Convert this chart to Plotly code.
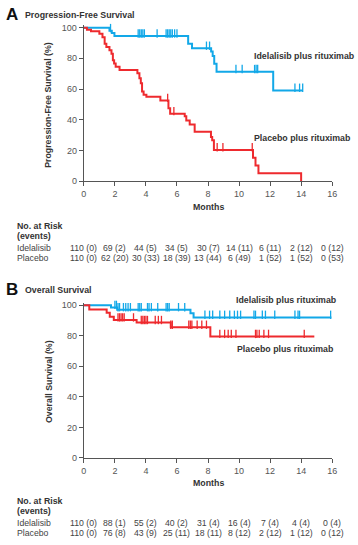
import plotly.graph_objects as go

# ---------------- DATA ----------------
months_ticks = [0, 2, 4, 6, 8, 10, 12, 14, 16]
pct_ticks = [0, 20, 40, 60, 80, 100]

# Progression-free survival (step functions: time in months, survival %)
pfs_idela_t = [0, 1.65, 1.8, 1.97, 6.72, 6.97, 8.2, 8.3, 8.4, 8.55, 12.2, 14.1]
pfs_idela_s = [100, 98, 96.5, 94.5, 89.5, 86.5, 84.5, 81.5, 76.5, 71.3, 59.1, 59.1]
pfs_idela_cens = [1.47, 1.6, 1.72, 3.5, 3.6, 3.7, 3.8, 3.9, 4.72, 5.3, 5.4, 5.5, 5.6, 5.7,
                  5.85, 6.0, 7.9, 8.1, 9.8, 10.2, 11.0, 11.1, 11.2, 13.6, 13.9, 14.1]

pfs_plac_t = [0, 0.2, 0.46, 1.0, 1.2, 1.34, 1.45, 1.65, 1.78, 1.87, 1.95, 2.05, 2.3, 3.45,
              3.58, 3.67, 3.75, 3.85, 4.03, 4.93, 5.45, 5.56, 6.5, 6.6, 6.82, 7.14, 8.19,
              8.27, 8.38, 10.9, 11.06, 11.25, 14.0]
pfs_plac_s = [100, 98.7, 97.6, 96, 93.8, 89.5, 87.4, 85.2, 83, 78.8, 76.7, 74.5, 72.4, 70.2,
              67, 63.8, 58.4, 56.3, 55.0, 52.5, 47.5, 43.9, 42.2, 39.4, 36.9, 32.1, 28.7,
              26.6, 20.3, 15.2, 10.2, 5.1, 0]
pfs_plac_cens = [5.4, 5.8, 8.59, 8.96, 10.85]

# Overall survival
os_idela_t = [0, 1.75, 2.15, 6.87, 7.07, 15.95]
os_idela_s = [100, 98.5, 97, 94.8, 92, 92]
os_idela_cens = [0.35, 0.57, 0.78, 0.98, 1.2, 1.5, 1.6, 2.0, 2.1, 2.2, 2.3, 2.55, 2.7, 2.85,
                 3.0, 3.5, 3.6, 3.7, 4.1, 4.2, 4.35, 4.76, 5.3, 5.4, 5.5, 6.1, 6.5, 7.8, 8.1,
                 8.3, 8.76, 9.07, 9.4, 9.7, 9.9, 10.1, 10.96, 11.06, 11.5, 11.7, 12.3, 13.6,
                 13.8, 13.9, 15.9]

os_plac_t = [0, 0.35, 1.47, 1.67, 1.93, 3.4, 5.6, 8.15, 14.85]
os_plac_s = [100, 97.2, 95, 92.5, 90.3, 88.6, 85.5, 79.5, 79.5]
os_plac_cens = [0.15, 2.2, 2.3, 2.4, 2.5, 2.6, 3.2, 3.7, 3.8, 3.9, 4.0, 4.1, 4.6, 4.8, 5.0,
                5.6, 5.7, 6.76, 6.86, 6.96, 7.3, 7.6, 7.9, 8.76, 9.07, 9.3, 9.5, 9.8, 11.06,
                11.15, 11.3, 11.6, 11.9, 14.2]

# Number at risk (events)
risk_months = [0, 2, 4, 6, 8, 10, 12, 14, 16]
pfs_idela_risk = ["110 (0)", "69 (2)", "44 (5)", "34 (5)", "30 (7)", "14 (11)", "6 (11)", "2 (12)", "0 (12)"]
pfs_plac_risk = ["110 (0)", "62 (20)", "30 (33)", "18 (39)", "13 (44)", "6 (49)", "1 (52)", "1 (52)", "0 (53)"]
os_idela_risk = ["110 (0)", "88 (1)", "55 (2)", "40 (2)", "31 (4)", "16 (4)", "7 (4)", "4 (4)", "0 (4)"]
os_plac_risk = ["110 (0)", "76 (8)", "43 (9)", "25 (11)", "18 (11)", "8 (12)", "2 (12)", "1 (12)", "0 (12)"]

# ---------------- STYLE ----------------
W, H = 358, 545
BLUE = "#12A8E8"
RED = "#EE2A2E"
AXC = "#555555"
TXT = "#333333"
FONT = "Liberation Sans, Arial, sans-serif"


def py(px):
    return 1 - px / H


def px_x(px):
    return px / W


def step_val(ts, ss, t):
    v = ss[0]
    for ti, si in zip(ts, ss):
        if ti <= t:
            v = si
    return v


fig = go.Figure()


def add_curve(ts, ss, cens, color, xa, ya):
    fig.add_trace(go.Scatter(x=ts, y=ss, mode="lines", line=dict(color=color, width=2, shape="hv"),
                             xaxis=xa, yaxis=ya, showlegend=False, hoverinfo="skip"))
    cy = [step_val(ts, ss, c) + 1.7 for c in cens]
    fig.add_trace(go.Scatter(x=cens, y=cy, mode="markers", xaxis=xa, yaxis=ya, showlegend=False,
                             marker=dict(symbol="line-ns", size=6, color=color,
                                         line=dict(color=color, width=1.3)),
                             cliponaxis=False, hoverinfo="skip"))


add_curve(pfs_idela_t, pfs_idela_s, pfs_idela_cens, BLUE, "x", "y")
add_curve(pfs_plac_t, pfs_plac_s, pfs_plac_cens, RED, "x", "y")
add_curve(os_idela_t, os_idela_s, os_idela_cens, BLUE, "x2", "y2")
add_curve(os_plac_t, os_plac_s, os_plac_cens, RED, "x2", "y2")

xdom = [px_x(82.7), px_x(336.7)]
axcommon = dict(showline=True, linecolor=AXC, linewidth=1.3, ticks="outside", ticklen=4,
                tickcolor=AXC, tickwidth=1.2, showgrid=False, zeroline=False,
                tickfont=dict(family=FONT, size=9, color="#555555"))

fig.update_layout(
    width=W, height=H, margin=dict(l=0, r=0, t=0, b=0),
    paper_bgcolor="white", plot_bgcolor="white",
    xaxis=dict(domain=xdom, range=[0, 16], tickvals=months_ticks, anchor="y", **axcommon),
    yaxis=dict(domain=[py(180.7), py(180.7 - 1.557 * 101.5)], range=[0, 101.5],
               tickvals=pct_ticks, anchor="x", **axcommon),
    xaxis2=dict(domain=xdom, range=[0, 16], tickvals=months_ticks, anchor="y2", **axcommon),
    yaxis2=dict(domain=[py(461.7), py(461.7 - 1.55 * 101.5)], range=[0, 101.5],
                tickvals=pct_ticks, anchor="x2", **axcommon),
)

ann = []


def text(x, y, s, size=8.8, bold=False, color=TXT, xanchor="left", angle=0, xref="paper"):
    ann.append(dict(x=x, y=y, xref=xref, yref="paper", text=("<b>%s</b>" % s) if bold else s,
                    showarrow=False, xanchor=xanchor, yanchor="middle", textangle=angle,
                    font=dict(family=FONT, size=size, color=color)))


def panel(letter, title, ytitle, ytop, ymid, xa, lab_i, lab_p, months_y, risk_y, idela_risk, plac_risk):
    text(px_x(1), py(ytop - 1), letter, size=17, bold=True, color="#111111")
    text(px_x(20.5), py(ytop), title, size=8.8, bold=True)
    text(px_x(46.5), py(ymid), ytitle, size=8.8, bold=True, xanchor="center", angle=-90)
    text(px_x(209.7), py(months_y), "Months", size=8.8, bold=True, xanchor="center")
    text(px_x(lab_i[0]), py(lab_i[1]), "Idelalisib plus rituximab", size=8.8, bold=True)
    text(px_x(lab_p[0]), py(lab_p[1]), "Placebo plus rituximab", size=8.8, bold=True)
    text(px_x(12.7), py(risk_y[0]), "No. at Risk", size=8.8, bold=True)
    text(px_x(12.7), py(risk_y[1]), "(events)", size=8.8, bold=True)
    text(px_x(12.7), py(risk_y[2]), "Idelalisib", size=8.7, color="#444444")
    text(px_x(12.7), py(risk_y[3]), "Placebo", size=8.7, color="#444444")
    for m, a, b in zip(risk_months, idela_risk, plac_risk):
        ann.append(dict(x=m, y=py(risk_y[2]), xref=xa, yref="paper", text=a, showarrow=False,
                        xanchor="center", yanchor="middle",
                        font=dict(family=FONT, size=8.7, color="#444444")))
        ann.append(dict(x=m, y=py(risk_y[3]), xref=xa, yref="paper", text=b, showarrow=False,
                        xanchor="center", yanchor="middle",
                        font=dict(family=FONT, size=8.7, color="#444444")))


panel("A", "Progression-Free Survival", "Progression-Free Survival (%)", 12.3, 102.9, "x",
      (255, 54), (255, 137.5), 207.3, (226, 236.7, 248.7, 259.3), pfs_idela_risk, pfs_plac_risk)
panel("B", "Overall Survival", "Overall Survival (%)", 291.7, 384.2, "x2",
      (236.7, 301), (237.7, 351), 486.7, (505.7, 516, 527.7, 538.3), os_idela_risk, os_plac_risk)

fig.update_layout(annotations=ann)
fig.write_html("out.html", config={"displayModeBar": False},
               post_script="document.body.style.margin='0';document.body.style.overflow='hidden';")
